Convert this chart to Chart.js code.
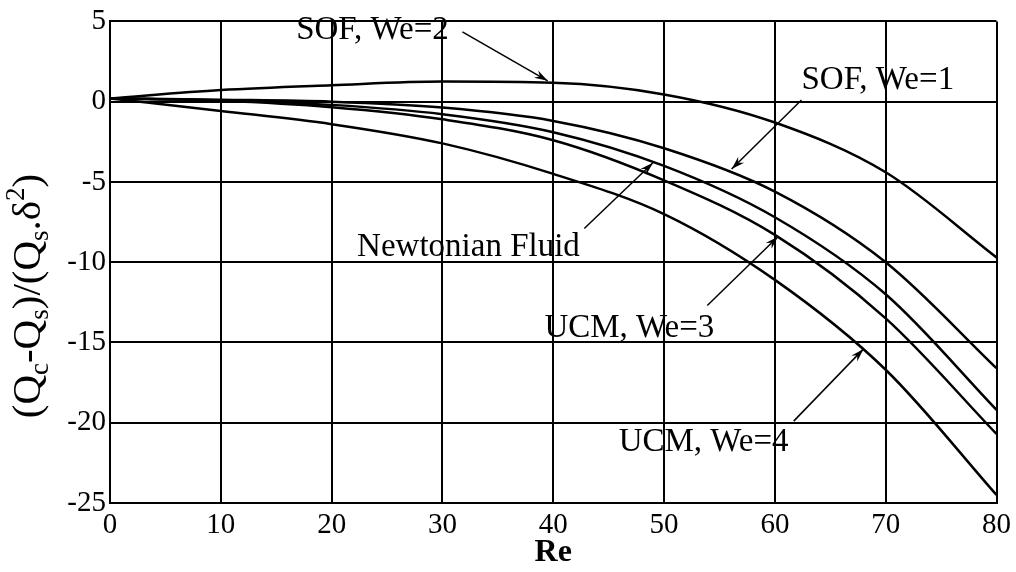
<!DOCTYPE html>
<html>
<head>
<meta charset="utf-8">
<script src="https://cdn.jsdelivr.net/npm/chart.js@4/dist/chart.umd.min.js"></script>
<style>
  html, body { margin: 0; padding: 0; background: #fff; }
  #wrap { width: 1016px; height: 572px; }
</style>
</head>
<body>
<div id="wrap"><canvas id="chart" width="1016" height="572"></canvas></div>
<script>
// Re values
var re = [0, 10, 20, 30, 40, 50, 60, 70, 80];

// (Qc-Qs)/(Qs.d^2) for each case
var sofWe2    = [0.2, 0.72, 1.02, 1.25, 1.18, 0.45, -1.3, -4.4, -9.7];
var sofWe1    = [0.2, 0.12, 0.0, -0.37, -1.2, -2.9, -5.6, -10.0, -16.6];
var newtonian = [0.2, 0.08, -0.2, -0.78, -1.9, -4.0, -7.2, -12.0, -19.2];
var ucmWe3    = [0.2, 0.05, -0.35, -1.1, -2.4, -4.9, -8.3, -13.5, -20.7];
var ucmWe4    = [0.2, -0.58, -1.4, -2.6, -4.5, -7.0, -11.1, -16.7, -24.5];

var xTicks = [0, 10, 20, 30, 40, 50, 60, 70, 80];
var yTicks = [-25, -20, -15, -10, -5, 0, 5];

// labels with arrows: text position, arrow start, arrow tip (data units)
var notes = [
    {text: 'SOF, We=2',       tx: 16.8, ty: 4.45, ax: 31.8, ay: 4.35, bx: 39.5, by: 1.3},
    {text: 'SOF, We=1',       tx: 62.4, ty: 1.3,  ax: 62.4, ay: 0.1,  bx: 56.1, by: -4.2},
    {text: 'Newtonian Fluid', tx: 22.3, ty: -9.05, ax: 42.8, ay: -7.9, bx: 49.0, by: -3.8},
    {text: 'UCM, We=3',       tx: 39.2, ty: -14.1, ax: 53.9, ay: -12.7, bx: 60.3, by: -8.4},
    {text: 'UCM, We=4',       tx: 45.9, ty: -21.2, ax: 61.7, ay: -19.9, bx: 68.0, by: -15.4}
];

function toPoints(ys) {
    var pts = [];
    for (var i = 0; i < re.length; i++) {
        pts.push({x: re[i], y: ys[i]});
    }
    return pts;
}

function curve(label, ys) {
    return {
        label: label,
        data: toPoints(ys),
        borderColor: '#000',
        borderWidth: 2.5,
        pointRadius: 0,
        fill: false,
        cubicInterpolationMode: 'monotone'
    };
}

var serif = "'Liberation Serif', 'DejaVu Serif', serif";

var annotations = {
    id: 'annotations',
    afterDraw: function(chart) {
        var ctx = chart.ctx;
        var xs = chart.scales.x, ys = chart.scales.y;
        ctx.save();
        ctx.fillStyle = '#000';
        ctx.strokeStyle = '#000';
        ctx.font = '33px ' + serif;
        ctx.textBaseline = 'middle';
        ctx.textAlign = 'left';
        notes.forEach(function(n) {
            ctx.fillText(n.text, xs.getPixelForValue(n.tx), ys.getPixelForValue(n.ty));
            var x1 = xs.getPixelForValue(n.ax), y1 = ys.getPixelForValue(n.ay);
            var x2 = xs.getPixelForValue(n.bx), y2 = ys.getPixelForValue(n.by);
            ctx.lineWidth = 1.5;
            ctx.beginPath();
            ctx.moveTo(x1, y1);
            ctx.lineTo(x2, y2);
            ctx.stroke();
            var a = Math.atan2(y2 - y1, x2 - x1);
            ctx.beginPath();
            ctx.moveTo(x2, y2);
            ctx.lineTo(x2 - 14 * Math.cos(a - 0.3), y2 - 14 * Math.sin(a - 0.3));
            ctx.lineTo(x2 - 9 * Math.cos(a), y2 - 9 * Math.sin(a));
            ctx.lineTo(x2 - 14 * Math.cos(a + 0.3), y2 - 14 * Math.sin(a + 0.3));
            ctx.closePath();
            ctx.fill();
        });

        // y axis title with sub/superscripts
        var parts = [
            ['(Q', 0], ['c', 1], ['-Q', 0], ['s', 1], [')/(Q', 0], ['s', 1], ['.\u03b4', 0], ['2', -1], [')', 0]
        ];
        var big = '41px ' + serif, small = '27px ' + serif;
        var total = 0;
        parts.forEach(function(p) {
            ctx.font = p[1] ? small : big;
            total += ctx.measureText(p[0]).width;
        });
        ctx.translate(20, 296);
        ctx.rotate(-Math.PI / 2);
        ctx.textBaseline = 'alphabetic';
        var cx = -total / 2;
        parts.forEach(function(p) {
            ctx.font = p[1] ? small : big;
            var dy = p[1] == 1 ? 8 : (p[1] == -1 ? -16 : 0);
            ctx.fillText(p[0], cx, 20 + dy);
            cx += ctx.measureText(p[0]).width;
        });
        ctx.restore();
    }
};

var ctx = document.getElementById('chart');
var chart = new Chart(ctx, {
    type: 'line',
    data: {
        datasets: [
            curve('SOF, We=2', sofWe2),
            curve('SOF, We=1', sofWe1),
            curve('Newtonian Fluid', newtonian),
            curve('UCM, We=3', ucmWe3),
            curve('UCM, We=4', ucmWe4)
        ]
    },
    options: {
        responsive: false,
        animation: false,
        layout: {padding: {left: 0, right: 17, top: 18, bottom: 0}},
        plugins: {legend: {display: false}, tooltip: {enabled: false}},
        scales: {
            x: {
                type: 'linear',
                min: 0, max: 80,
                afterBuildTicks: function(scale) {
                    scale.ticks = xTicks.map(function(v) { return {value: v}; });
                },
                afterFit: function(scale) { scale.height = 69; },
                grid: {color: '#000', lineWidth: 2, drawTicks: false},
                border: {color: '#000', width: 2},
                ticks: {color: '#000', padding: 5, maxRotation: 0, font: {family: serif, size: 29}},
                title: {display: true, text: 'Re', color: '#000', padding: {top: 0, bottom: 0},
                        font: {family: serif, size: 32, weight: 'bold'}}
            },
            y: {
                min: -25, max: 5,
                afterBuildTicks: function(scale) {
                    scale.ticks = yTicks.map(function(v) { return {value: v}; });
                },
                afterFit: function(scale) { scale.width = 110; },
                grid: {color: '#000', lineWidth: 2, drawTicks: false},
                border: {color: '#000', width: 2},
                ticks: {color: '#000', padding: 4, font: {family: serif, size: 29}}
            }
        }
    },
    plugins: [annotations]
});
</script>
</body>
</html>
